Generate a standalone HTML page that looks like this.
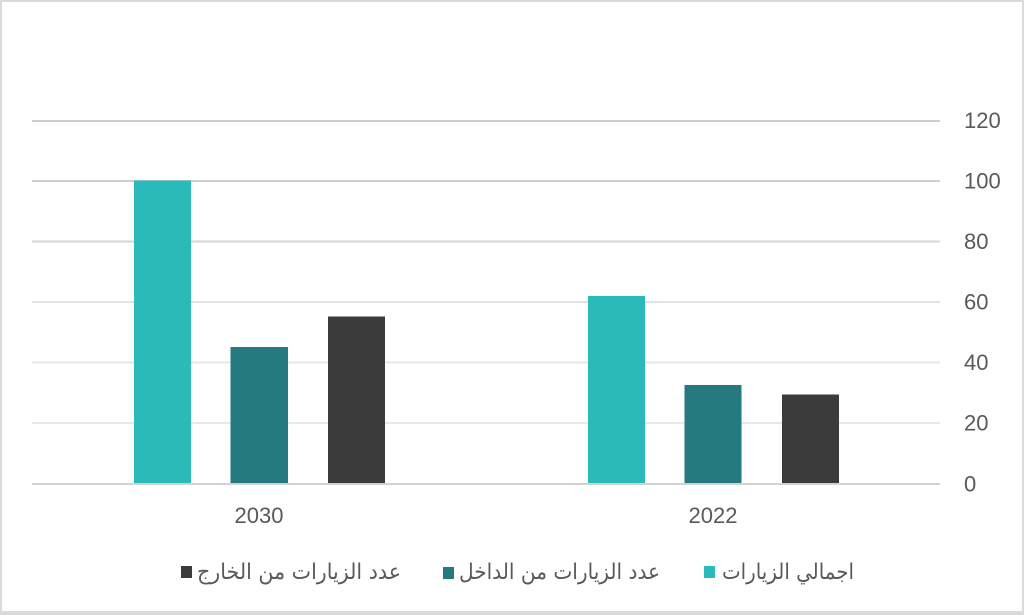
<!DOCTYPE html>
<html>
<head>
<meta charset="utf-8">
<style>
  html, body { margin:0; padding:0; background:#fff; }
  body { width:1024px; height:615px; overflow:hidden; position:relative; }
  .frame { position:absolute; left:0; top:0; width:1024px; height:615px; box-sizing:border-box;
           border-top:2px solid #dadada; border-left:2px solid #dadada; border-right:2px solid #dadada; border-bottom:4px solid #dadada; }
  svg { position:absolute; left:0; top:0; }
</style>
</head>
<body>
<div class="frame"></div>
<svg width="1024" height="615" viewBox="0 0 1024 615" xmlns="http://www.w3.org/2000/svg">
  <g stroke-width="2" shape-rendering="crispEdges">
    <line x1="32" y1="121" x2="940" y2="121" stroke="#cdcdcd"/>
    <line x1="32" y1="181" x2="940" y2="181" stroke="#cdcdcd"/>
    <line x1="32" y1="241.5" x2="940" y2="241.5" stroke="#d6d6d6"/>
    <line x1="32" y1="302" x2="940" y2="302" stroke="#e2e2e2"/>
    <line x1="32" y1="362.5" x2="940" y2="362.5" stroke="#e6e6e6"/>
    <line x1="32" y1="423" x2="940" y2="423" stroke="#e8e8e8"/>
    <line x1="32" y1="484" x2="940" y2="484" stroke="#d2d2d2"/>
  </g>
  <rect x="134" y="180.5" width="57" height="302.5" fill="#2bbaba"/>
  <rect x="230.5" y="347" width="57.5" height="136" fill="#257a80"/>
  <rect x="328" y="316.5" width="57" height="166.5" fill="#3b3b3b"/>
  <rect x="588" y="296" width="57" height="187" fill="#2bbaba"/>
  <rect x="684.5" y="385" width="57" height="98" fill="#257a80"/>
  <rect x="782" y="394.5" width="57" height="88.5" fill="#3b3b3b"/>
  <g font-family="Liberation Sans, Arial, sans-serif" font-size="22" fill="#595959">
    <text x="964" y="128">120</text>
    <text x="964" y="188.5">100</text>
    <text x="964" y="249">80</text>
    <text x="964" y="309.5">60</text>
    <text x="964" y="370">40</text>
    <text x="964" y="430.5">20</text>
    <text x="964" y="491.5">0</text>
  </g>
  <g font-family="Liberation Sans, Arial, sans-serif" font-size="22" fill="#595959" text-anchor="middle">
    <text x="259" y="523">2030</text>
    <text x="713" y="523">2022</text>
  </g>
  <rect x="181" y="566" width="11" height="12" fill="#3b3b3b"/>
  <rect x="443" y="567" width="11" height="12" fill="#257a80"/>
  <rect x="704" y="566" width="11" height="12" fill="#2bbaba"/>
  <g font-family="DejaVu Sans, Liberation Sans, sans-serif" font-size="22" fill="#595959">
    <text x="197" y="579" textLength="204" lengthAdjust="spacingAndGlyphs">عدد الزيارات من الخارج</text>
    <text x="459" y="579" textLength="201" lengthAdjust="spacingAndGlyphs">عدد الزيارات من الداخل</text>
    <text x="722" y="579" textLength="132" lengthAdjust="spacingAndGlyphs">اجمالي الزيارات</text>
  </g>
</svg>
</body>
</html>
